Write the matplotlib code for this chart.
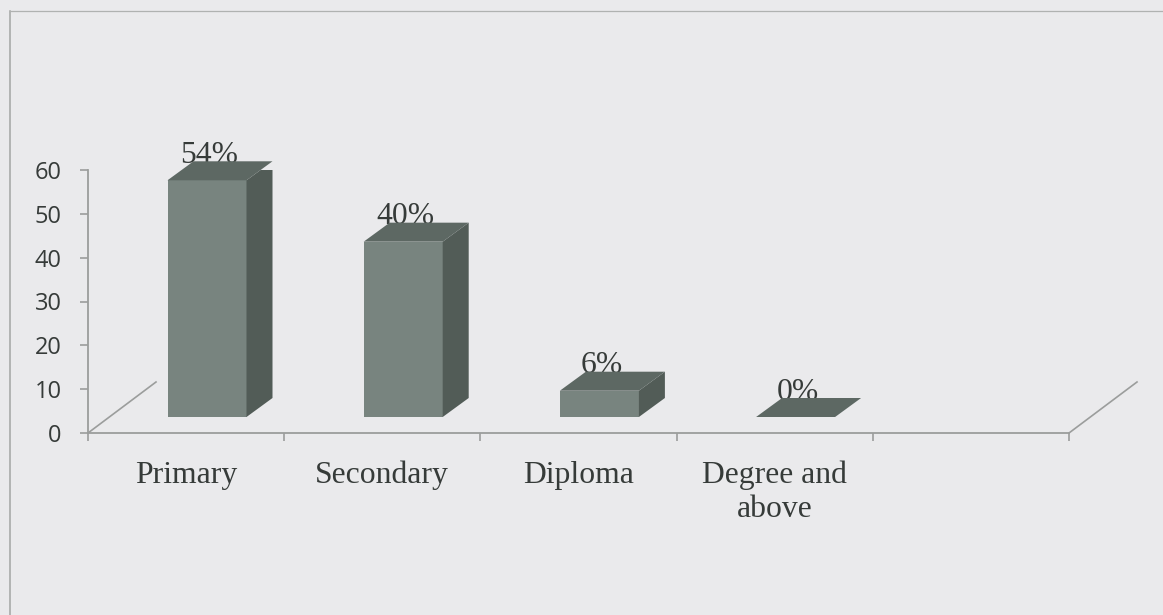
import matplotlib
matplotlib.use("Agg")
import matplotlib.pyplot as plt
from matplotlib.lines import Line2D

categories = ["Primary", "Secondary", "Diploma", "Degree and\nabove"]
values = [54, 40, 6, 0]
labels = ["54%", "40%", "6%", "0%"]
y_ticks = [0, 10, 20, 30, 40, 50, 60]
n_slots = 5

W, H = 1163, 615
BG = "#eaeaec"
AX = "#9b9d9c"
TXT = "#363b39"
FRONT, SIDE, TOP = "#78847f", "#525c57", "#5d6863"

fig = plt.figure(figsize=(W / 100, H / 100), dpi=100, facecolor=BG)
L, R, T, B = 88, 1069, 170, 433
ax = fig.add_axes([L / W, 1 - B / H, (R - L) / W, (B - T) / H])
ax.set_facecolor("none")
ax.set_xlim(0, n_slots)
ax.set_ylim(0, 60)

# pixel sizes expressed in data units (pseudo-3D projection)
ux = n_slots / (R - L)
uy = 60 / (B - T)
dx, dy = 26 * ux, 19 * uy
base = 16 * uy
x_off, bar_w = 79.5 * ux, 79 * ux

for i, (v, lab) in enumerate(zip(values, labels)):
    x0 = i + x_off
    x1 = x0 + bar_w
    y0 = base
    y1 = base + v
    ax.text((x0 + x1 + dx) / 2 - 11 * ux, y1 + dy - 1.5 * uy, lab, ha="center", va="baseline",
            family="Liberation Serif", fontsize=22.8, color=TXT, zorder=2, clip_on=False)
    if v > 0:
        ax.fill([x0, x1, x1, x0], [y0, y0, y1, y1], color=FRONT, lw=0, zorder=3)
        ax.fill([x1, x1 + dx, x1 + dx, x1], [y0, y0 + dy, y1 + dy, y1], color=SIDE, lw=0, zorder=3)
    ax.fill([x0, x1, x1 + dx, x0 + dx], [y1, y1, y1 + dy, y1 + dy], color=TOP, lw=0, zorder=4,
            clip_on=False)

for s in ("top", "right"):
    ax.spines[s].set_visible(False)
for s in ("left", "bottom"):
    ax.spines[s].set_color(AX)
    ax.spines[s].set_linewidth(1.3)

ax.set_yticks(y_ticks)
ax.tick_params(axis="y", length=6, width=1.2, color=AX, pad=13, labelcolor=TXT, labelsize=17)
for t in ax.get_yticklabels():
    t.set_family("Open Sans")

ax.set_xticks(range(n_slots + 1))
ax.set_xticklabels([])
ax.tick_params(axis="x", which="major", length=6, width=1.2, color=AX)
ax.set_xticks([i + 0.5 for i in range(len(categories))], minor=True)
ax.set_xticklabels(categories, minor=True, family="Liberation Serif", fontsize=22.8, color=TXT,
                   linespacing=1.2)
ax.tick_params(axis="x", which="minor", length=0, pad=20)

# back-wall depth lines
for x in (0, n_slots):
    ax.add_line(Line2D([x, x + 68 * ux], [0, 51 * uy], color=AX, lw=1.2, clip_on=False))

# outer frame
fig.add_artist(Line2D([10 / W, 10 / W], [0, 1 - 11 / H], color="#a3a5a4", lw=1.1))
fig.add_artist(Line2D([10 / W, 1], [1 - 11 / H, 1 - 11 / H], color="#b0b2b1", lw=0.9))

fig.savefig("out.png", dpi=100, facecolor=BG)
